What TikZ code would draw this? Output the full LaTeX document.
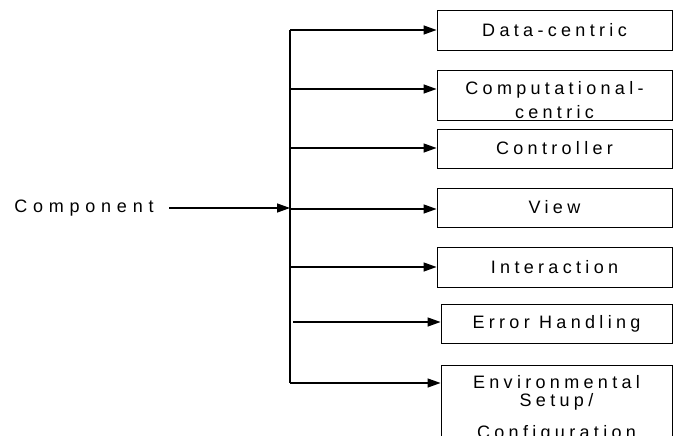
\documentclass[tikz,border=0pt]{standalone}
\usepackage{fontspec}
\setmainfont{Liberation Sans}[LetterSpace=24]
\usetikzlibrary{arrows.meta,positioning,calc}
\tikzset{
  kind/.style={draw, line width=0.9pt, minimum width=235pt, inner sep=0pt,
    align=center, font=\fontsize{18}{20}\selectfont},
  feed/.style={line width=1.3pt, -{Triangle[length=13pt,width=9pt]}},
}

\begin{document}
\begin{tikzpicture}[x=1pt, y=-1pt]
  \useasboundingbox (0,0) rectangle (677,436);

  % the kinds of component
  \node[kind, minimum height=40] (data) at (554.5,30) {Data-centric};
  \node[kind, minimum height=50] (comp) at (554.5,95) {};
  \node[align=center, font=\fontsize{18}{23.3}\selectfont] (compText) at (554.5,100.2) {Computational-\\centric};
  \node[kind, minimum height=39] (ctrl) at (554.5,148.5) {Controller};
  \node[kind, minimum height=39] (view) at (554.5,207.5) {View};
  \node[kind, minimum height=40] (inter) at (554.5,267) {Interaction};
  \node[kind, minimum width=231pt, minimum height=39] (err) at (556.5,323.5) {Error Handling};
  \node[kind, minimum width=231pt, anchor=north, inner ysep=10pt,
    font=\fontsize{18}{18.5}\selectfont] (env) at (556.5,365) {Environmental\\Setup/\\[13pt]Configuration};

  % source and trunk
  \node[font=\fontsize{18}{20}\selectfont\addfontfeatures{LetterSpace=32}] (src) at (84,208) {Component};
  \coordinate (hub) at (290,208);
  \coordinate (t1) at (290,30);
  \coordinate (t2) at (290,89);
  \coordinate (t3) at (290,148);
  \coordinate (t4) at (290,209);
  \coordinate (t5) at (290,267);
  \coordinate (t6) at (293,322);
  \coordinate (t7) at (290,383);

  \draw[line width=1.3pt] (t1) -- (t7);
  \draw[feed] ([xshift=12pt]src.east) -- (hub);
  \foreach \tap/\kind in {t1/data, t2/comp, t3/ctrl, t4/view, t5/inter, t6/err, t7/env}
    \draw[feed] (\tap) -- (\tap -| \kind.west);
\end{tikzpicture}
\end{document}
